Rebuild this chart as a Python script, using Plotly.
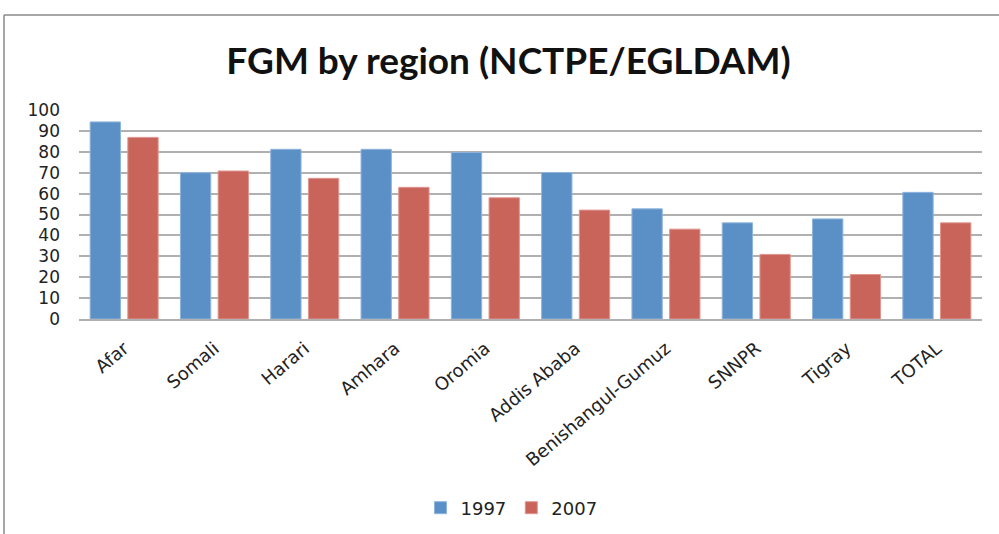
import plotly.graph_objects as go

regions = ["Afar", "Somali", "Harari", "Amhara", "Oromia", "Addis Ababa",
           "Benishangul-Gumuz", "SNNPR", "Tigray", "TOTAL"]
values_1997 = [94.3, 70.0, 81.2, 81.2, 79.7, 70.1, 52.7, 46.0, 47.9, 60.6]
values_2007 = [86.9, 70.8, 67.3, 63.0, 58.0, 52.1, 43.0, 30.9, 21.3, 46.0]
y_ticks = [0, 10, 20, 30, 40, 50, 60, 70, 80, 90, 100]

BLUE = "#5b90c6"
RED = "#c9645b"

fig = go.Figure()
fig.add_trace(go.Bar(name="1997", x=regions, y=values_1997,
                     marker=dict(color=BLUE, line=dict(color="#8fb4dc", width=1))))
fig.add_trace(go.Bar(name="2007", x=regions, y=values_2007,
                     marker=dict(color=RED, line=dict(color="#e0968f", width=1))))

W, H = 999, 534
L, R, T, B = 79, 17, 110, 215

fig.update_layout(
    width=W, height=H,
    margin=dict(l=L, r=R, t=T, b=B),
    paper_bgcolor="white", plot_bgcolor="white",
    barmode="group", bargap=0.165, bargroupgap=0.196,
    font=dict(family="DejaVu Sans", color="#222222"),
    title=dict(text="<b>FGM by region (NCTPE/EGLDAM)</b>",
               font=dict(family="Lato", size=37, color="#111111"),
               x=0.509, xanchor="center", xref="container",
               y=1 - 61 / H, yanchor="middle", yref="container"),
    legend=dict(orientation="h", x=0.512, xanchor="center", xref="container",
                y=1 - 508 / H, yanchor="middle", yref="container",
                font=dict(size=18, family="DejaVu Sans", color="#222222"),
                itemwidth=30, traceorder="normal"),
    showlegend=True,
)
fig.update_yaxes(range=[0, 100], tickvals=y_ticks, showgrid=True,
                 gridcolor="#b0b0b0", gridwidth=1.6, zeroline=False,
                 showline=False, ticks="", ticklabelstandoff=18,
                 tickfont=dict(size=17, family="DejaVu Sans", color="#222222"),
                 fixedrange=True)
fig.update_xaxes(showline=True, linecolor="#b0b0b0", linewidth=2,
                 tickangle=-40, ticks="outside", ticklen=10, tickcolor="rgba(0,0,0,0)",
                 tickfont=dict(size=18, family="DejaVu Sans", color="#222222"),
                 fixedrange=True)

# chart frame (top and left edges)
pw = W - L - R
ph = H - T - B
def px_x(x):
    return (x - L) / pw
def px_y(y):
    return (H - B - y) / ph
fig.add_shape(type="line", xref="paper", yref="paper",
              x0=px_x(4), x1=px_x(999), y0=px_y(15), y1=px_y(15),
              line=dict(color="#8a8a8a", width=1.5))
fig.add_shape(type="line", xref="paper", yref="paper",
              x0=px_x(4), x1=px_x(4), y0=px_y(15), y1=px_y(534),
              line=dict(color="#8a8a8a", width=1.5))

fig.write_html("out.html", config={"displayModeBar": False},
               post_script="document.body.style.margin='0';document.body.style.overflow='hidden';")
